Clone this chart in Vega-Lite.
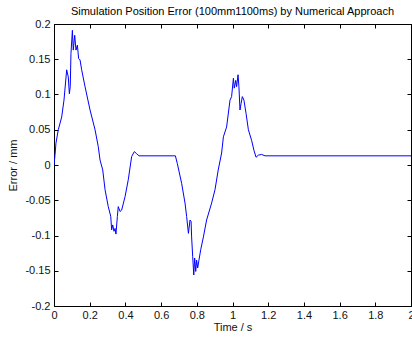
{
  "$schema": "https://vega.github.io/schema/vega-lite/v6.json",
  "width": 357,
  "height": 282,
  "autosize": {"type": "none"},
  "padding": {"left": 54, "top": 24, "right": 1, "bottom": 33},
  "background": "white",
  "title": {"text": "Simulation Position Error (100mm1100ms) by Numerical Approach", "font": "Liberation Sans", "fontSize": 11, "fontWeight": "normal", "color": "#000", "offset": 1, "anchor": "middle", "frame": "group"},
  "config": {
    "view": {"stroke": "#000", "strokeWidth": 1},
    "axis": {"labelFont": "Liberation Sans", "labelFontSize": 11, "labelColor": "#111", "titleFont": "Liberation Sans", "titleFontSize": 11, "titleFontWeight": "normal", "titleColor": "#111", "domainColor": "#000", "tickColor": "#000", "grid": false, "tickSize": -4, "labelFlush": false, "labelOverlap": false}
  },
  "data": {"values": [
    {"t": 0, "e": 0},
    {"t": 0.006, "e": 0.015},
    {"t": 0.011, "e": 0.031},
    {"t": 0.024, "e": 0.050},
    {"t": 0.043, "e": 0.068},
    {"t": 0.056, "e": 0.092},
    {"t": 0.071, "e": 0.135},
    {"t": 0.080, "e": 0.125},
    {"t": 0.086, "e": 0.101},
    {"t": 0.091, "e": 0.111},
    {"t": 0.095, "e": 0.158},
    {"t": 0.103, "e": 0.191},
    {"t": 0.108, "e": 0.163},
    {"t": 0.116, "e": 0.184},
    {"t": 0.123, "e": 0.163},
    {"t": 0.131, "e": 0.170},
    {"t": 0.138, "e": 0.151},
    {"t": 0.146, "e": 0.149},
    {"t": 0.155, "e": 0.135},
    {"t": 0.174, "e": 0.111},
    {"t": 0.202, "e": 0.078},
    {"t": 0.230, "e": 0.050},
    {"t": 0.248, "e": 0.026},
    {"t": 0.258, "e": 0.007},
    {"t": 0.273, "e": -0.007},
    {"t": 0.286, "e": -0.035},
    {"t": 0.304, "e": -0.059},
    {"t": 0.318, "e": -0.073},
    {"t": 0.323, "e": -0.092},
    {"t": 0.329, "e": -0.085},
    {"t": 0.336, "e": -0.094},
    {"t": 0.342, "e": -0.090},
    {"t": 0.347, "e": -0.098},
    {"t": 0.355, "e": -0.073},
    {"t": 0.360, "e": -0.059},
    {"t": 0.370, "e": -0.066},
    {"t": 0.379, "e": -0.064},
    {"t": 0.398, "e": -0.045},
    {"t": 0.416, "e": -0.021},
    {"t": 0.435, "e": 0.012},
    {"t": 0.450, "e": 0.019},
    {"t": 0.463, "e": 0.016},
    {"t": 0.476, "e": 0.013},
    {"t": 0.680, "e": 0.013},
    {"t": 0.691, "e": 0.002},
    {"t": 0.715, "e": -0.026},
    {"t": 0.734, "e": -0.054},
    {"t": 0.743, "e": -0.073},
    {"t": 0.753, "e": -0.097},
    {"t": 0.762, "e": -0.078},
    {"t": 0.768, "e": -0.080},
    {"t": 0.771, "e": -0.102},
    {"t": 0.777, "e": -0.130},
    {"t": 0.783, "e": -0.156},
    {"t": 0.788, "e": -0.132},
    {"t": 0.794, "e": -0.151},
    {"t": 0.799, "e": -0.135},
    {"t": 0.805, "e": -0.146},
    {"t": 0.812, "e": -0.135},
    {"t": 0.822, "e": -0.120},
    {"t": 0.837, "e": -0.102},
    {"t": 0.855, "e": -0.078},
    {"t": 0.883, "e": -0.054},
    {"t": 0.902, "e": -0.035},
    {"t": 0.920, "e": -0.007},
    {"t": 0.939, "e": 0.017},
    {"t": 0.949, "e": 0.040},
    {"t": 0.967, "e": 0.054},
    {"t": 0.986, "e": 0.092},
    {"t": 0.995, "e": 0.097},
    {"t": 1.005, "e": 0.123},
    {"t": 1.010, "e": 0.109},
    {"t": 1.018, "e": 0.120},
    {"t": 1.023, "e": 0.111},
    {"t": 1.031, "e": 0.128},
    {"t": 1.036, "e": 0.111},
    {"t": 1.042, "e": 0.078},
    {"t": 1.048, "e": 0.087},
    {"t": 1.055, "e": 0.097},
    {"t": 1.064, "e": 0.092},
    {"t": 1.076, "e": 0.073},
    {"t": 1.089, "e": 0.050},
    {"t": 1.107, "e": 0.035},
    {"t": 1.120, "e": 0.021},
    {"t": 1.132, "e": 0.011},
    {"t": 1.145, "e": 0.014},
    {"t": 1.163, "e": 0.015},
    {"t": 1.182, "e": 0.013},
    {"t": 2.0, "e": 0.013}
  ]},
  "layer": [
    {
      "mark": {"type": "line", "color": "#0000ff", "strokeWidth": 1, "clip": true},
      "encoding": {
        "x": {"field": "t", "type": "quantitative", "scale": {"domain": [0, 2], "nice": false, "zero": false},
              "axis": {"orient": "bottom", "title": "Time / s", "values": [0, 0.2, 0.4, 0.6, 0.8, 1, 1.2, 1.4, 1.6, 1.8, 2], "format": "~g", "labelPadding": 7, "titlePadding": 1}},
        "y": {"field": "e", "type": "quantitative", "scale": {"domain": [-0.2, 0.2], "nice": false, "zero": false},
              "axis": {"orient": "left", "title": "Error / mm", "values": [-0.2, -0.15, -0.1, -0.05, 0, 0.05, 0.1, 0.15, 0.2], "labelExpr": "replace(format(datum.value, '~g'), '\u2212', '-')", "labelPadding": 8, "titlePadding": 6}}
      }
    },
    {
      "mark": {"type": "line", "opacity": 0},
      "encoding": {
        "x": {"field": "t", "type": "quantitative", "scale": {"domain": [0, 2], "nice": false, "zero": false},
              "axis": {"orient": "top", "title": null, "labels": false, "values": [0, 0.2, 0.4, 0.6, 0.8, 1, 1.2, 1.4, 1.6, 1.8, 2]}},
        "y": {"field": "e", "type": "quantitative", "scale": {"domain": [-0.2, 0.2], "nice": false, "zero": false},
              "axis": {"orient": "right", "title": null, "labels": false, "values": [-0.2, -0.15, -0.1, -0.05, 0, 0.05, 0.1, 0.15, 0.2]}}
      }
    }
  ],
  "resolve": {"axis": {"x": "independent", "y": "independent"}}
}
